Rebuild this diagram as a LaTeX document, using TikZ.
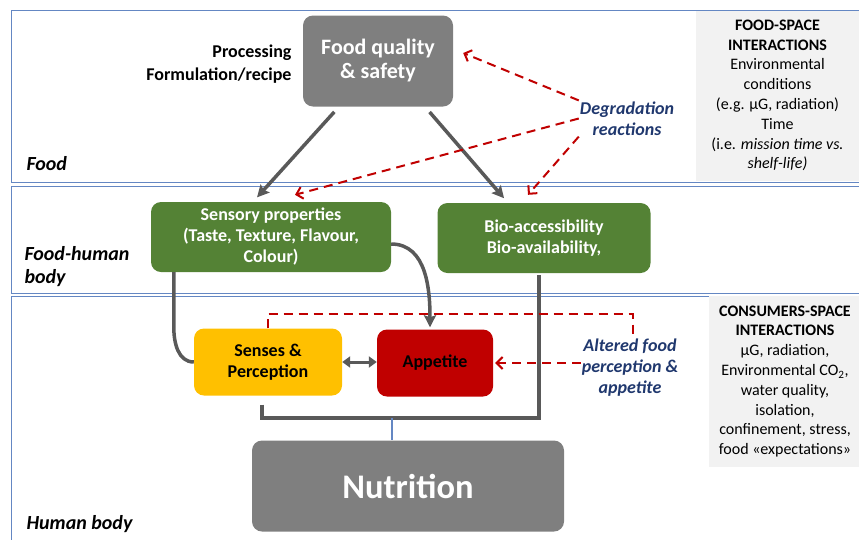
\documentclass[tikz,border=0pt]{standalone}
\usepackage{fontspec}
\setmainfont{Carlito}
\usetikzlibrary{arrows.meta}

\definecolor{boxgray}{RGB}{127,127,127}
\definecolor{boxgreen}{RGB}{84,130,53}
\definecolor{boxyellow}{RGB}{255,192,0}
\definecolor{boxred}{RGB}{192,0,0}
\definecolor{linegray}{RGB}{89,89,89}
\definecolor{navytext}{RGB}{32,56,110}
\definecolor{panelgray}{RGB}{242,242,242}
\definecolor{bandblue}{RGB}{100,135,195}

\begin{document}
\begin{tikzpicture}[x=1pt,y=-1pt,>={Stealth[length=12pt,width=12pt,inset=2pt]},
    main node/.style={rounded corners=10pt,align=center,inner sep=2pt,font=\bfseries\fontsize{18}{21}\selectfont},
    band/.style={draw=bandblue,line width=0.9pt},
    panel/.style={fill=panelgray,align=center,font=\fontsize{16}{19.8}\selectfont},
    conn/.style={draw=linegray,line width=3.5pt},
    degr/.style={draw=boxred,line width=2pt,dash pattern=on 9pt off 6pt,-{Straight Barb[length=6pt,width=12pt]}},
    note/.style={text=navytext,align=center,inner sep=1pt,font=\bfseries\itshape\fontsize{18}{21}\selectfont},
    zone/.style={anchor=west,align=left,font=\bfseries\itshape\fontsize{20}{23}\selectfont}]

    \useasboundingbox (0,0) rectangle (859,539);

    % bands
    \draw[band] (11,10) rectangle (875,182);
    \draw[band] (11,186) rectangle (875,293);
    \draw[band] (11,296) rectangle (875,560);

    \node[panel,minimum width=163pt,minimum height=170pt] (p1) at (777.5,95.5) {\textbf{FOOD-SPACE}\\\textbf{INTERACTIONS}\\Environmental\\conditions\\(e.g. µG, radiation)\\Time\\(i.e. \textit{mission time vs.}\\\textit{shelf-life)}};
    \node[panel,minimum width=152pt,minimum height=171pt] (p2) at (785,381.5) {\textbf{CONSUMERS-SPACE}\\\textbf{INTERACTIONS}\\µG, radiation,\\Environmental CO\textsubscript{2},\\water quality,\\isolation,\\confinement, stress,\\food «expectations»};

    \node[main node,fill=boxgray,text=white,minimum width=150pt,minimum height=91pt,font=\bfseries\fontsize{22}{24}\selectfont] (1) at (378,61) {Food quality\\\& safety};
    \node[main node,fill=boxgreen,text=white,minimum width=240pt,minimum height=70pt] (2) at (271,237) {Sensory properties\\(Taste, Texture, Flavour,\\Colour)};
    \node[main node,fill=boxgreen,text=white,minimum width=213pt,minimum height=70pt] (3) at (544,238) {Bio-accessibility\\Bio-availability,};
    \node[main node,fill=boxyellow,minimum width=148pt,minimum height=67pt] (4) at (268,362) {Senses \&\\Perception};
    \node[main node,fill=boxred,minimum width=116pt,minimum height=67pt] (5) at (435,363) {Appetite};
    \node[main node,fill=boxgray,text=white,minimum width=312pt,minimum height=91pt,font=\bfseries\fontsize{34.5}{38}\selectfont] (6) at (408,486) {Nutrition};

    \node[anchor=east,align=right,font=\bfseries\fontsize{18}{23}\selectfont] (7) at (295,64.5) {Processing\\Formulation/recipe};
    \node[note] (8) at (627,118.5) {Degradation\\reactions};
    \node[note] (9) at (630,367.5) {Altered food\\perception \&\\appetite};

    \node[zone] (10) at (23,164) {Food};
    \node[zone] (11) at (21,266.5) {Food-human\\body};
    \node[zone] (12) at (23,524) {Human body};

    \coordinate (j) at (392,418);
    \coordinate (k) at (633,314);

    \path[every edge/.style={conn,->,shorten <=7pt,shorten >=6pt}]
        ([xshift=-39pt]1.south) edge ([xshift=-18pt]2.north)
        ([xshift=47pt]1.south) edge ([xshift=-36pt]3.north);

    \path[every edge/.style={degr}]
        (8.north west) edge ([xshift=10pt,yshift=8pt]1.east)
        (8.west) edge ([xshift=24pt,yshift=7pt]2.north)
        (8.south west) edge ([xshift=-16pt,yshift=8pt]3.north);

    \draw[conn] ([xshift=23pt]2.south west) -- ++(0,55) to[out=-90,in=180] (4.west);
    \draw[conn,->] ([yshift=-7pt]2.east) to[out=0,in=90] ([xshift=-5pt,yshift=2pt]5.north);
    \draw[conn,line width=3pt,{Triangle[length=8pt,width=11pt]}-{Triangle[length=8pt,width=11pt]}] (4.east) -- (4.east -| 5.west);
    \draw[conn,line join=miter] ([xshift=-6pt,yshift=-9pt]4.south) |- (j) -| ([xshift=-5pt,yshift=-2pt]3.south);
    \draw[draw=bandblue,line width=1.2pt] (j) -- (j |- 6.north);

    \draw[degr,-] (4.north) |- (k) -- (k |- 9.north);
    \draw[degr,shorten >=2pt] (9.west |- 5.east) -- (5.east);
\end{tikzpicture}
\end{document}
